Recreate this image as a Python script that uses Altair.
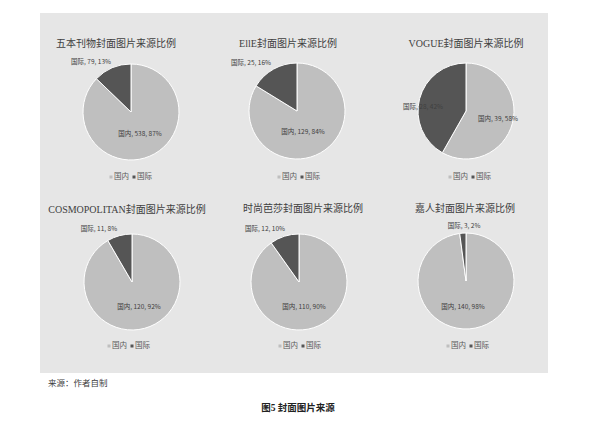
import math
import altair as alt
import pandas as pd

# ---------------- data ----------------
titles = ["五本刊物封面图片来源比例", "EllE封面图片来源比例", "VOGUE封面图片来源比例",
          "COSMOPOLITAN封面图片来源比例", "时尚芭莎封面图片来源比例", "嘉人封面图片来源比例"]
categories = ["国内", "国际"]
domestic = [538, 129, 39, 120, 110, 140]
international = [79, 25, 28, 11, 12, 3]
source_note = "来源：作者自制"
figure_caption = "图5  封面图片来源"

# ---------------- layout (page pixel positions) ----------------
W, H = 581, 413
pie_centers = [(131, 112), (297, 111), (466, 111), (132, 282), (299, 282), (466, 281)]
title_pos = [(116, 44), (288, 44), (466, 44), (127, 210), (303, 209), (465, 209)]
intl_label_pos = [(91, 62), (251, 63), (423, 107), (99, 229), (265, 229), (464, 226)]
dom_label_pos = [(140, 134), (303, 132), (498, 119), (139, 307), (304, 307), (463, 307)]
legend_pos = [(132, 177), (300, 177), (471, 177), (130, 346), (301, 346), (469, 346)]
panel = (40, 548, 13, 373)
note_pos = (48, 383)
caption_pos = (298, 408)

colors = ["#bfbfbf", "#555555"]
bg = "#e6e6e6"

# ---------------- tables ----------------
slices = []
labels = []
legend_marks = []
legend_texts = []
for i in range(6):
    vals = [domestic[i], international[i]]
    total = sum(vals)
    cx, cy = pie_centers[i]
    for k, cat in enumerate(categories):
        slices.append({"chart": i, "cat": cat, "ord": k, "value": vals[k], "cx": cx, "cy": cy})
        pct = round(100 * vals[k] / total)
        lx, ly = (dom_label_pos[i] if k == 0 else intl_label_pos[i])
        labels.append({"x": lx, "y": ly, "text": f"{cat}, {vals[k]}, {pct}%"})
    gx, gy = legend_pos[i]
    legend_marks.append({"x": gx - 21, "y": gy, "cat": "国内"})
    legend_marks.append({"x": gx + 2, "y": gy, "cat": "国际"})
    legend_texts.append({"x": gx - 18, "y": gy, "text": "国内"})
    legend_texts.append({"x": gx + 5, "y": gy, "text": "国际"})

df_slices = pd.DataFrame(slices)
df_labels = pd.DataFrame(labels)
df_titles = pd.DataFrame({"x": [p[0] for p in title_pos], "y": [p[1] for p in title_pos], "text": titles})
df_lm = pd.DataFrame(legend_marks)
df_lt = pd.DataFrame(legend_texts)
df_panel = pd.DataFrame([{"x": panel[0], "x2": panel[1], "y": panel[2], "y2": panel[3]}])
df_note = pd.DataFrame([{"x": note_pos[0], "y": note_pos[1], "text": source_note}])
df_cap = pd.DataFrame([{"x": caption_pos[0], "y": caption_pos[1], "text": figure_caption}])

xs = alt.Scale(domain=[8, 8 + W], nice=False, zero=False)
ys = alt.Scale(domain=[8, 8 + H], nice=False, zero=False, reverse=True)
cs = alt.Scale(domain=categories, range=colors)


def X(f="x"):
    return alt.X(f + ":Q", scale=xs, axis=None)


def Y(f="y"):
    return alt.Y(f + ":Q", scale=ys, axis=None)


bg_layer = alt.Chart(df_panel).mark_rect(color=bg).encode(
    x=X(), x2="x2:Q", y=Y(), y2="y2:Q")

pies = alt.Chart(df_slices).transform_joinaggregate(
    total="sum(value)", groupby=["chart"]
).transform_window(
    cum="sum(value)", groupby=["chart"], sort=[alt.SortField("ord")], frame=[None, 0]
).transform_calculate(
    t0="(datum.cum - datum.value) / datum.total",
    t1="datum.cum / datum.total",
).mark_arc(outerRadius=48, stroke="white", strokeWidth=1).encode(
    x=X("cx"), y=Y("cy"),
    theta=alt.Theta("t0:Q", stack=False,
                    scale=alt.Scale(domain=[0, 1], range=[0, 2 * math.pi], zero=False, nice=False)),
    theta2="t1:Q",
    color=alt.Color("cat:N", scale=cs, legend=None),
)

title_layer = alt.Chart(df_titles).mark_text(
    font="Liberation Serif, Noto Sans CJK SC", fontSize=10, color="#404040", align="center", baseline="middle"
).encode(x=X(), y=Y(), text="text:N")

label_layer = alt.Chart(df_labels).mark_text(
    font="Noto Sans CJK SC", fontSize=6.5, color="#404040", align="center", baseline="middle"
).encode(x=X(), y=Y(), text="text:N")

legend_mark_layer = alt.Chart(df_lm).mark_point(shape="square", filled=True, size=9, opacity=1).encode(
    x=X(), y=Y(), color=alt.Color("cat:N", scale=cs, legend=None))

legend_text_layer = alt.Chart(df_lt).mark_text(
    font="Noto Sans CJK SC", fontSize=7.5, color="#595959", align="left", baseline="middle"
).encode(x=X(), y=Y(), text="text:N")

note_layer = alt.Chart(df_note).mark_text(
    font="Noto Sans CJK SC", fontSize=8.5, color="#404040", align="left", baseline="middle"
).encode(x=X(), y=Y(), text="text:N")

cap_layer = alt.Chart(df_cap).mark_text(
    font="Liberation Serif, Noto Sans CJK SC", fontSize=9.5, fontWeight="bold", color="#222222",
    align="center", baseline="middle"
).encode(x=X(), y=Y(), text="text:N")

chart = alt.layer(
    bg_layer, pies, title_layer, label_layer, legend_mark_layer, legend_text_layer, note_layer, cap_layer
).properties(
    width=W, height=H, padding=0, autosize=alt.AutoSizeParams(type="none"), background="white"
).configure_view(stroke=None)

chart.save("out.html", embed_options={"renderer": "svg", "actions": False})
